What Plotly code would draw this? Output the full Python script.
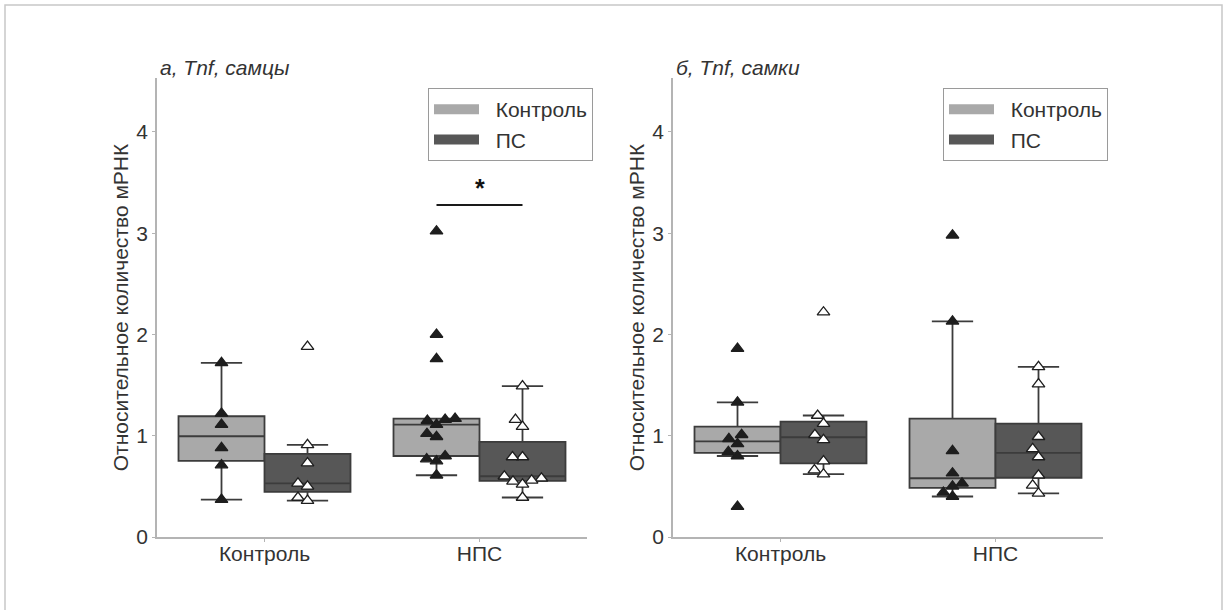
import numpy as np
import plotly.graph_objects as go

# ---------------- data ----------------
categories = ["Контроль", "НПС"]
groups = ["Контроль", "ПС"]
panel_titles = ["<i>а, Tnf, самцы</i>", "<i>б, Tnf, самки</i>"]
y_title = "Относительное количество мРНК"
y_ticks = [0, 1, 2, 3, 4]

# males
male_ctrl_ctrl = [1.72, 1.22, 1.11, 0.88, 0.71, 0.37]
male_ctrl_ps = [1.88, 0.91, 0.73, 0.53, 0.50, 0.39, 0.36]
male_nps_ctrl = [3.02, 2.00, 1.76, 1.17, 1.16, 1.15, 1.11, 1.02, 0.99, 0.80, 0.77, 0.75, 0.61]
male_nps_ps = [1.49, 1.16, 1.09, 0.79, 0.79, 0.60, 0.58, 0.56, 0.55, 0.52, 0.39]
# females
female_ctrl_ctrl = [1.86, 1.33, 1.01, 0.97, 0.92, 0.84, 0.80, 0.30]
female_ctrl_ps = [2.22, 1.20, 1.12, 1.01, 0.96, 0.75, 0.66, 0.62]
female_nps_ctrl = [2.98, 2.13, 0.85, 0.63, 0.53, 0.50, 0.44, 0.40]
female_nps_ps = [1.68, 1.51, 0.99, 0.87, 0.79, 0.61, 0.51, 0.43]

# significance (males, НПС: Контроль vs ПС)
sig_level = 3.28
sig_label = "*"

panels = [
    {"Контроль": [male_ctrl_ctrl, male_nps_ctrl], "ПС": [male_ctrl_ps, male_nps_ps]},
    {"Контроль": [female_ctrl_ctrl, female_nps_ctrl], "ПС": [female_ctrl_ps, female_nps_ps]},
]

# ---------------- style ----------------
W, H = 1224, 610
FONT = "Liberation Sans, Arial, sans-serif"
FS = 21
TXT = "#333333"
fill = {"Контроль": "#a9a9a9", "ПС": "#575757"}
edge = "#3c3c3c"
pt_fill = {"Контроль": "#1e1e1e", "ПС": "#ffffff"}
group_off = {"Контроль": -0.2, "ПС": 0.2}
box_w = 0.4

x_domains = [[157 / W, 587 / W], [673 / W, 1103 / W]]
y_domain = [(H - 537) / H, (H - 78) / H]
y_range = [0, 4.533]
x_range = [-0.5, 1.5]
sx = (587 - 157) / (x_range[1] - x_range[0])     # px per x unit
sy = (537 - 78) / (y_range[1] - y_range[0])      # px per y unit


def stats(v):
    a = np.sort(np.asarray(v, float))
    q1, med, q3 = np.percentile(a, [25, 50, 75])
    iqr = q3 - q1
    lo = a[a >= q1 - 1.5 * iqr].min()
    hi = a[a <= q3 + 1.5 * iqr].max()
    return q1, med, q3, lo, hi


def swarm(vals, d=10):
    vals = np.asarray(vals, float)
    order = np.argsort(vals, kind="stable")
    placed = []
    offs = np.zeros(len(vals))
    for i in order:
        y = vals[i] * sy
        cands = [0.0]
        for px, py in placed:
            dy = y - py
            if abs(dy) < d:
                dx = np.sqrt(d * d - dy * dy)
                cands += [px - dx, px + dx]
        cands = sorted(cands, key=lambda c: (round(abs(c), 6), c))
        for c in cands:
            if all((c - px) ** 2 + (y - py) ** 2 >= d * d - 1e-6 for px, py in placed):
                offs[i] = c
                placed.append((c, y))
                break
    return offs / sx


fig = go.Figure()

for p, panel in enumerate(panels):
    xa = "x" if p == 0 else "x2"
    ya = "y" if p == 0 else "y2"
    leg = "legend" if p == 0 else "legend2"
    # boxes
    for g in groups:
        xs, q1s, meds, q3s, los, his = [], [], [], [], [], []
        for ci, vals in enumerate(panel[g]):
            q1, med, q3, lo, hi = stats(vals)
            xs.append(ci + group_off[g])
            q1s.append(q1); meds.append(med); q3s.append(q3); los.append(lo); his.append(hi)
        fig.add_trace(go.Box(
            x=xs, q1=q1s, median=meds, q3=q3s, lowerfence=los, upperfence=his,
            width=box_w, whiskerwidth=0.48, name=g, showlegend=False,
            fillcolor=fill[g], line=dict(color=edge, width=1.8),
            boxpoints=False, xaxis=xa, yaxis=ya, hoverinfo="skip",
        ))
        # legend swatch (wide rectangle)
        fig.add_trace(go.Scatter(
            x=[None], y=[None], mode="lines", name="\u00a0\u00a0" + g, legend=leg, showlegend=True,
            line=dict(color=fill[g], width=10), xaxis=xa, yaxis=ya,
        ))
    # points
    for g in groups:
        px, py = [], []
        for ci, vals in enumerate(panel[g]):
            offs = swarm(vals)
            px += list(ci + group_off[g] + offs)
            py += list(vals)
        fig.add_trace(go.Scatter(
            x=px, y=py, mode="markers", showlegend=False, xaxis=xa, yaxis=ya,
            marker=dict(symbol="triangle-up", size=11, color=pt_fill[g],
                        line=dict(color="#1e1e1e", width=1.3)),
            hoverinfo="skip",
        ))

# significance bar on males НПС
fig.add_shape(type="line", xref="x", yref="y",
              x0=1 + group_off["Контроль"], x1=1 + group_off["ПС"],
              y0=sig_level, y1=sig_level, line=dict(color="#1a1a1a", width=2))
fig.add_annotation(xref="x", yref="y", x=1, y=sig_level + 0.17, text="<b>" + sig_label + "</b>",
                   showarrow=False, font=dict(size=25, color="#111", family=FONT))

# panel titles
for p, t in enumerate(panel_titles):
    fig.add_annotation(xref="paper", yref="paper", x=x_domains[p][0] + 1 / W, y=(H - 68) / H,
                       xanchor="left", yanchor="middle", text=t, showarrow=False,
                       font=dict(size=FS, color=TXT, family=FONT))

# outer frame
fig.add_shape(type="rect", xref="paper", yref="paper", x0=5 / W, x1=1222 / W,
              y0=-0.05, y1=(H - 5) / H, line=dict(color="#c8c8c8", width=1.5), layer="below")

axis_common = dict(showgrid=False, zeroline=False, showline=True, linecolor="#b4b4b4",
                   linewidth=1.5, ticks="outside", ticklen=3, tickcolor="#b4b4b4",
                   tickfont=dict(size=FS, color=TXT, family=FONT), automargin=False)

for p in range(2):
    xk = "xaxis" if p == 0 else "xaxis2"
    yk = "yaxis" if p == 0 else "yaxis2"
    fig.update_layout(**{
        xk: dict(axis_common, domain=x_domains[p], range=x_range, tickvals=[0, 1],
                 ticktext=categories, anchor="y" if p == 0 else "y2", ticklabelstandoff=-6),
        yk: dict(axis_common, domain=y_domain, range=y_range, tickvals=y_ticks,
                 anchor="x" if p == 0 else "x2",
                 title=dict(text=y_title, font=dict(size=FS, color=TXT, family=FONT), standoff=2)),
    })

legend_common = dict(bgcolor="white", bordercolor="#9a9a9a", borderwidth=1,
                     font=dict(size=FS, color=TXT, family=FONT), itemwidth=45,
                     xanchor="right", yanchor="top", y=(H - 88) / H, itemsizing="trace")

fig.update_layout(
    width=W, height=H,
    margin=dict(l=0, r=0, t=0, b=0),
    paper_bgcolor="white", plot_bgcolor="white",
    font=dict(family=FONT, color=TXT),
    boxmode="overlay",
    legend=dict(legend_common, x=593 / W),
    legend2=dict(legend_common, x=1108 / W),
)

fig.write_html("out.html")
